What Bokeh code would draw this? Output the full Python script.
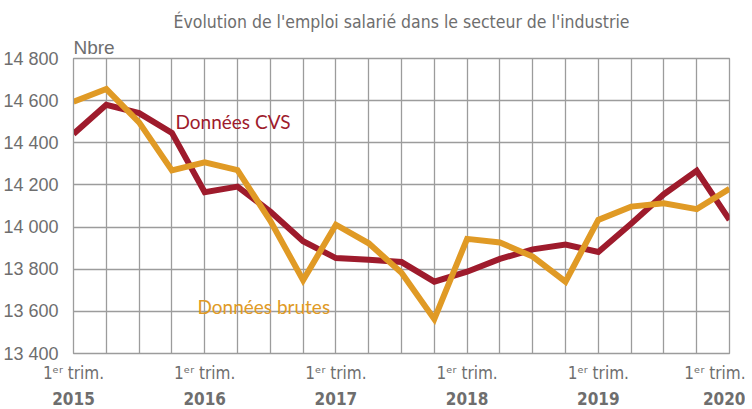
from bokeh.plotting import figure
from bokeh.models import Range1d, FixedTicker, LinearAxis, Title, Label, ColumnDataSource
from bokeh.embed import file_html
from bokeh.resources import INLINE

# ---- data ----
quarters = ["2015T1", "2015T2", "2015T3", "2015T4",
            "2016T1", "2016T2", "2016T3", "2016T4",
            "2017T1", "2017T2", "2017T3", "2017T4",
            "2018T1", "2018T2", "2018T3", "2018T4",
            "2019T1", "2019T2", "2019T3", "2019T4",
            "2020T1"]
cvs = [14442, 14580, 14541, 14447, 14165, 14192, 14074, 13933, 13853, 13845,
       13834, 13741, 13788, 13849, 13894, 13917, 13882, 14016, 14156, 14267, 14034]
brutes = [14595, 14655, 14497, 14269, 14307, 14270, 14030, 13748, 14011, 13923,
          13783, 13563, 13944, 13927, 13860, 13741, 14034, 14097, 14113, 14085, 14182]
y_ticks = [13400, 13600, 13800, 14000, 14200, 14400, 14600, 14800]
y_tick_labels = ["13 400", "13 600", "13 800", "14 000", "14 200", "14 400", "14 600", "14 800"]
x_tick_idx = [0, 4, 8, 12, 16, 20]
x_tick_top = ["1\u1d49\u02b3 trim."] * 6
x_tick_years = ["2015", "2016", "2017", "2018", "2019", "2020"]
title_text = "Évolution de l'emploi salarié dans le secteur de l'industrie"
unit_text = "Nbre"
label_cvs = "Données CVS"
label_brutes = "Données brutes"

RED = "#9e1b2c"
ORANGE = "#e09a25"
GREY_TXT = "#6e6e6e"
GRID = "#9c9c9c"
NARROW = "DejaVu Sans Condensed"

x = list(range(len(quarters)))
src = ColumnDataSource(dict(x=x, cvs=cvs, brutes=brutes))

p = figure(frame_width=656, frame_height=295, output_backend="svg", toolbar_location=None,
           title=None, x_range=Range1d(0, len(quarters) - 1),
           y_range=Range1d(y_ticks[0], y_ticks[-1]),
           min_border_left=64, min_border_right=16, min_border_top=58, min_border_bottom=0)
p.background_fill_color = "white"
p.border_fill_color = "white"
p.outline_line_color = GRID
p.outline_line_width = 1.3

# grids
p.xgrid.ticker = FixedTicker(ticks=x)
p.xgrid.grid_line_color = GRID
p.xgrid.grid_line_width = 1.3
p.ygrid.ticker = FixedTicker(ticks=y_ticks)
p.ygrid.grid_line_color = GRID
p.ygrid.grid_line_width = 1.3

# y axis
yax = p.yaxis[0]
yax.ticker = FixedTicker(ticks=y_ticks)
yax.major_label_overrides = {t: l for t, l in zip(y_ticks, y_tick_labels)}
yax.axis_line_color = GRID
yax.major_tick_line_color = None
yax.minor_tick_line_color = None
yax.major_label_standoff = 9
yax.major_label_text_font = "Liberation Sans"
yax.major_label_text_font_size = "18px"
yax.major_label_text_color = GREY_TXT

# x axis (two rows)
xax = p.xaxis[0]
xax.ticker = FixedTicker(ticks=x_tick_idx)
xax.major_label_overrides = {t: l for t, l in zip(x_tick_idx, x_tick_top)}
xax.axis_line_color = None
xax.major_tick_line_color = None
xax.minor_tick_line_color = None
xax.major_label_standoff = 3
xax.major_label_text_font = NARROW
xax.major_label_text_font_size = "17px"
xax.major_label_text_color = GREY_TXT

xax2 = LinearAxis(ticker=FixedTicker(ticks=x_tick_idx),
                  major_label_overrides={t: l for t, l in zip(x_tick_idx, x_tick_years)},
                  axis_line_color=None, major_tick_line_color=None, minor_tick_line_color=None,
                  major_label_standoff=0, major_label_text_font=NARROW,
                  major_label_text_font_size="17px", major_label_text_font_style="bold",
                  major_label_text_color=GREY_TXT)
p.add_layout(xax2, "below")

# lines
p.line("x", "cvs", source=src, line_color=RED, line_width=6, line_join="miter")
p.line("x", "brutes", source=src, line_color=ORANGE, line_width=6, line_join="miter")

# titles
p.add_layout(Title(text=unit_text, align="left", text_font="Liberation Sans",
                   text_font_size="19px", text_font_style="normal",
                   text_color=GREY_TXT, standoff=2), "above")
p.add_layout(Title(text=title_text, align="center", text_font=NARROW,
                   text_font_size="17.5px", text_font_style="normal",
                   text_color=GREY_TXT, standoff=4), "above")

# series labels
p.add_layout(Label(x=3.11, y=14503, text=label_cvs, text_font="Lato",
                   text_font_size="19px", text_color=RED, text_baseline="alphabetic"))
p.add_layout(Label(x=3.78, y=13625, text=label_brutes, text_font="Lato",
                   text_font_size="19px", text_color=ORANGE, text_baseline="alphabetic"))

open("out.html", "w").write(file_html(p, INLINE))
